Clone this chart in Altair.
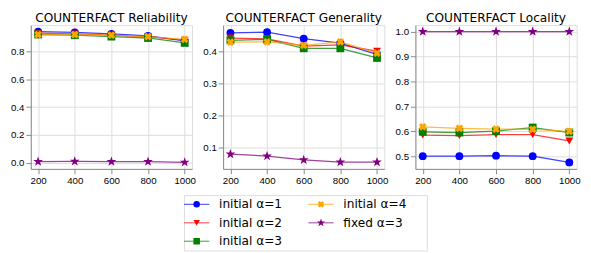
import altair as alt
import pandas as pd

steps = [200, 400, 600, 800, 1000]
series = ["initial α=1", "initial α=2", "initial α=3", "initial α=4", "fixed α=3"]
colors = ["blue", "red", "green", "orange", "purple"]
shapes = ["circle", "triangle-down", "square", "cross", "M0,-1L0.235,-0.324L0.951,-0.309L0.38,0.124L0.588,0.809L0,0.4L-0.588,0.809L-0.38,0.124L-0.951,-0.309L-0.235,-0.324Z"]

reliability = [
    [0.940, 0.935, 0.925, 0.910, 0.875],
    [0.930, 0.925, 0.915, 0.905, 0.880],
    [0.920, 0.915, 0.905, 0.895, 0.860],
    [0.920, 0.920, 0.915, 0.905, 0.885],
    [0.010, 0.012, 0.010, 0.010, 0.005],
]
generality = [
    [0.458, 0.460, 0.440, 0.426, 0.391],
    [0.442, 0.439, 0.417, 0.421, 0.401],
    [0.435, 0.438, 0.410, 0.410, 0.380],
    [0.429, 0.430, 0.419, 0.430, 0.395],
    [0.081, 0.075, 0.063, 0.056, 0.056],
]
locality = [
    [0.500, 0.500, 0.502, 0.500, 0.475],
    [0.585, 0.583, 0.587, 0.587, 0.561],
    [0.598, 0.595, 0.601, 0.615, 0.595],
    [0.618, 0.612, 0.609, 0.608, 0.600],
    [1.000, 1.000, 1.000, 1.000, 1.000],
]

FONT = "DejaVu Sans"
color_scale = alt.Scale(domain=series, range=colors)
shape_scale = alt.Scale(domain=series, range=shapes)

is_x = alt.datum.series == "initial α=4"
is_star = alt.datum.series == "fixed α=3"


def long_df(values):
    rows = []
    for s, vals in zip(series, values):
        for x, v in zip(steps, vals):
            rows.append({"series": s, "step": x, "value": v})
    return pd.DataFrame(rows)


def panel(values, title, ydomain, yticks):
    df = long_df(values)
    x = alt.X("step:Q", scale=alt.Scale(domain=[160, 1040], nice=False, zero=False),
              axis=alt.Axis(values=steps, title=None, format="d"))
    y = alt.Y("value:Q", scale=alt.Scale(domain=ydomain, nice=False, zero=False),
              axis=alt.Axis(values=yticks, title=None, format=".1f"))
    base = alt.Chart(df).encode(
        x=x, y=y,
        color=alt.Color("series:N", scale=color_scale, legend=None),
        detail="series:N",
    )
    lines = base.mark_line(strokeWidth=1.3, opacity=0.75)
    pts = base.mark_point(filled=True, opacity=1).encode(
        shape=alt.Shape("series:N", scale=shape_scale, legend=None),
        angle=alt.condition(is_x, alt.value(45), alt.value(0)),
        size=alt.condition(is_star, alt.value(110), alt.value(65)),
    )
    return alt.layer(lines, pts).properties(
        width=166, height=148,
        title=alt.Title(title, font=FONT, fontSize=12.5, fontWeight="normal", offset=1),
    )


p1 = panel(reliability, "COUNTERFACT Reliability", [-0.042, 0.987], [0.0, 0.2, 0.4, 0.6, 0.8])
p2 = panel(generality, "COUNTERFACT Generality", [0.035, 0.482], [0.1, 0.2, 0.3, 0.4])
p3 = panel(locality, "COUNTERFACT Locality", [0.449, 1.026], [0.5, 0.6, 0.7, 0.8, 0.9, 1.0])

top = alt.hconcat(p1, p2, p3, spacing=5)

# custom legend (line + marker), two columns
LW = 250
colw = 128
leg_rows = []
for i, s in enumerate(series):
    col, row = i // 3, i % 3
    x0 = col * colw
    leg_rows.append({"series": s, "row": row, "x0": x0, "x1": x0 + 26, "xm": x0 + 13, "xt": x0 + 36})
ldf = pd.DataFrame(leg_rows)
lx = alt.Scale(domain=[0, LW], range=[0, LW], nice=False, zero=False)
ly = alt.Scale(domain=[-0.5, 2.5], nice=False, zero=False, reverse=True)
lbase = alt.Chart(ldf).encode(
    y=alt.Y("row:Q", scale=ly, axis=None),
)
lrule = lbase.mark_rule(strokeWidth=1.3, opacity=0.6).encode(
    x=alt.X("x0:Q", scale=lx, axis=None), x2="x1:Q",
    color=alt.Color("series:N", scale=color_scale, legend=None))
lpts = lbase.mark_point(filled=True, opacity=1).encode(
    x=alt.X("xm:Q", scale=lx, axis=None),
    color=alt.Color("series:N", scale=color_scale, legend=None),
    shape=alt.Shape("series:N", scale=shape_scale, legend=None),
    angle=alt.condition(is_x, alt.value(45), alt.value(0)),
    size=alt.condition(is_star, alt.value(80), alt.value(45)),
)
ltext = lbase.mark_text(align="left", baseline="middle", font=FONT, fontSize=12.5, color="black").encode(
    x=alt.X("xt:Q", scale=lx, axis=None), text="series:N")
legend = alt.layer(lrule, lpts, ltext).properties(width=LW, height=57)

chart = alt.vconcat(top, legend, spacing=8, center=True).configure_view(
    stroke="black", strokeWidth=1.2
).configure_axis(
    labelFont=FONT, labelFontSize=10.5, labelColor="black",
    grid=True, gridColor="#b0b0b0", gridWidth=1.5,
    domain=False, tickColor="black", tickSize=3, labelPadding=1,
).configure(padding={"left": 2, "right": 2, "top": 0, "bottom": 0})

chart.save("out.html", embed_options={"renderer": "svg", "actions": False})
